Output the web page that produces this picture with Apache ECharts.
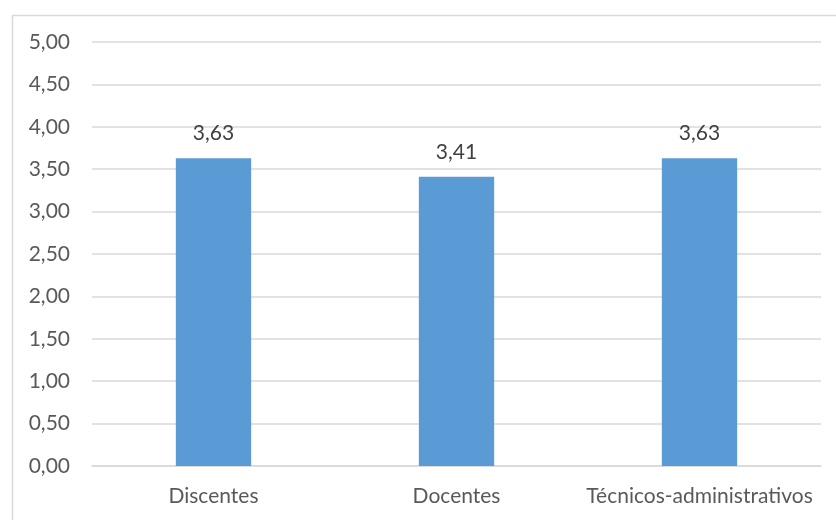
<!DOCTYPE html>
<html>
<head>
<meta charset="utf-8">
<script src="https://cdn.jsdelivr.net/npm/echarts@6/dist/echarts.min.js"></script>
<style>html,body{margin:0;padding:0;background:#fff;}#c{width:836px;height:520px;}</style>
</head>
<body>
<div id="c"></div>
<script>
const categories = ['Discentes', 'Docentes', 'Técnicos-administrativos'];
const values = [3.63, 3.41, 3.63];
const yMin = 0, yMax = 5, yStep = 0.5;

const fmt = v => v.toFixed(2).replace('.', ',');
const FONT = 'Lato';

const chart = echarts.init(document.getElementById('c'));
chart.setOption({
  animation: false,
  backgroundColor: '#fff',
  graphic: [{
    type: 'rect', left: 10, top: 13, silent: true,
    shape: { width: 840, height: 520 },
    style: { fill: 'none', stroke: '#d9d9d9', lineWidth: 1.5 }
  }],
  grid: { left: 92, right: 15, top: 42, bottom: 54 },
  xAxis: {
    type: 'category', data: categories,
    axisLine: { lineStyle: { color: '#d9d9d9', width: 1.5 } },
    axisTick: { show: false },
    axisLabel: { color: '#595959', fontSize: 21, fontFamily: FONT, margin: 20, interval: 0, hideOverlap: false }
  },
  yAxis: {
    type: 'value', min: yMin, max: yMax, interval: yStep,
    axisLine: { show: false }, axisTick: { show: false },
    splitLine: { lineStyle: { color: '#d9d9d9', width: 1.5 } },
    axisLabel: { color: '#595959', fontSize: 21, fontFamily: FONT, margin: 22, formatter: v => fmt(v) }
  },
  series: [{
    type: 'bar', data: values, barWidth: '31%',
    itemStyle: { color: '#5B9BD5' },
    label: { show: true, position: 'top', distance: 14, color: '#404040', fontSize: 21, fontFamily: FONT, formatter: p => fmt(p.value) }
  }]
});
</script>
</body>
</html>
